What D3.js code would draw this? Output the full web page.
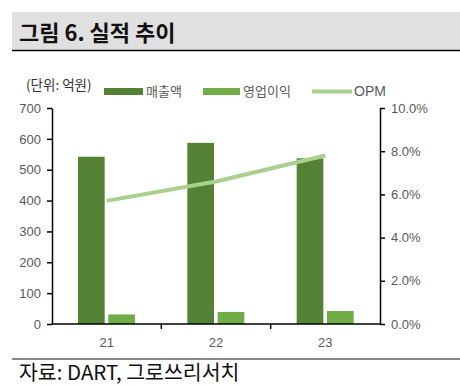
<!DOCTYPE html>
<html>
<head>
<meta charset="utf-8">
<script src="https://cdn.jsdelivr.net/npm/d3@7"></script>
<style>
  body { margin: 0; background: #fff; }
  text { font-family: "Noto Sans CJK KR", "Noto Sans", sans-serif; }
  .num { font-family: "Liberation Sans", Arial, sans-serif; }
</style>
</head>
<body>
<svg id="chart"></svg>
<script>
years = ["21", "22", "23"];
sales = [542, 587, 537];      // 매출액 (억원)
profit = [31, 39, 42];        // 영업이익 (억원)
opm = [5.7, 6.6, 7.8];        // OPM (%)
leftTicks = [0, 100, 200, 300, 400, 500, 600, 700];
rightTicks = [0, 2, 4, 6, 8, 10];

width = 460;
height = 385;
margin = {top: 108, right: 80, bottom: 61, left: 52};

const svg = d3.select("#chart")
    .attr("width", width)
    .attr("height", height);

// title bar
svg.append("rect")
    .attr("x", 12).attr("y", 12)
    .attr("width", width - 12).attr("height", 38)
    .attr("fill", "#e0e0e0");
svg.append("line")
    .attr("x1", 12).attr("x2", width)
    .attr("y1", 50.5).attr("y2", 50.5)
    .attr("stroke", "#000").attr("stroke-width", 1.5);
svg.append("text")
    .attr("x", 19).attr("y", 41)
    .attr("font-size", 22).attr("font-weight", "bold")
    .attr("fill", "#111")
    .text("그림 6. 실적 추이");

const x = d3.scaleBand()
    .domain(years)
    .range([margin.left, width - margin.right]);

const xInner = d3.scaleBand()
    .domain(["sales", "profit"])
    .range([26, 83])
    .paddingInner(0.12);

const y = d3.scaleLinear()
    .domain([0, 700])
    .range([height - margin.bottom, margin.top]);

const y2 = d3.scaleLinear()
    .domain([0, 10])
    .range([height - margin.bottom, margin.top]);

// bars
const g = svg.append("g");
g.selectAll(".sales")
    .data(sales)
    .join("rect")
    .attr("x", (d, i) => x(years[i]) + xInner("sales"))
    .attr("width", xInner.bandwidth())
    .attr("y", d => y(d))
    .attr("height", d => y(0) - y(d))
    .attr("fill", "#548235");
g.selectAll(".profit")
    .data(profit)
    .join("rect")
    .attr("x", (d, i) => x(years[i]) + xInner("profit"))
    .attr("width", xInner.bandwidth())
    .attr("y", d => y(d))
    .attr("height", d => y(0) - y(d))
    .attr("fill", "#70ad47");

// OPM line
const line = d3.line()
    .x((d, i) => x(years[i]) + x.bandwidth() / 2)
    .y(d => y2(d));
svg.append("path")
    .datum(opm)
    .attr("fill", "none")
    .attr("stroke", "#a9d18e")
    .attr("stroke-width", 4)
    .attr("d", line);

// axes
function styleAxis(sel) {
    sel.select(".domain").attr("stroke", "#000").attr("stroke-width", 1.5);
    sel.selectAll(".tick line").attr("stroke", "#000").attr("stroke-width", 1.5);
    sel.selectAll(".tick text")
        .attr("class", "num")
        .attr("fill", "#595959")
        .attr("font-size", 13);
}

svg.append("g")
    .attr("transform", `translate(${margin.left},0)`)
    .call(d3.axisLeft(y).tickValues(leftTicks).tickSize(5).tickPadding(6).tickSizeOuter(0))
    .call(styleAxis);

svg.append("g")
    .attr("transform", `translate(${width - margin.right},0)`)
    .call(d3.axisRight(y2).tickValues(rightTicks).tickSize(5).tickPadding(6)
        .tickSizeOuter(0).tickFormat(d => d.toFixed(1) + "%"))
    .call(styleAxis);

const xAxis = svg.append("g")
    .attr("transform", `translate(0,${height - margin.bottom})`)
    .call(d3.axisBottom(x).tickSize(0).tickPadding(14))
    .call(styleAxis);
xAxis.select(".domain").remove();
svg.append("line")
    .attr("x1", margin.left).attr("x2", width - margin.right)
    .attr("y1", y(0)).attr("y2", y(0))
    .attr("stroke", "#000").attr("stroke-width", 1.5);
// category boundary ticks
svg.append("g")
    .selectAll("line")
    .data(years.slice(1))
    .join("line")
    .attr("x1", d => x(d)).attr("x2", d => x(d))
    .attr("y1", y(0)).attr("y2", y(0) + 5)
    .attr("stroke", "#000").attr("stroke-width", 1.5);

// unit label
svg.append("text")
    .attr("x", 26).attr("y", 90)
    .attr("font-size", 13.5).attr("fill", "#333")
    .text("(단위: 억원)");

// legend
const legend = svg.append("g").attr("font-size", 13).attr("fill", "#595959");
legend.append("rect").attr("x", 104).attr("y", 88).attr("width", 39).attr("height", 7).attr("fill", "#548235");
legend.append("text").attr("x", 146).attr("y", 96).attr("fill", "#595959").text("매출액");
legend.append("rect").attr("x", 203).attr("y", 88).attr("width", 37).attr("height", 7).attr("fill", "#70ad47");
legend.append("text").attr("x", 243).attr("y", 96).attr("fill", "#595959").text("영업이익");
legend.append("line").attr("x1", 312).attr("x2", 352).attr("y1", 91.5).attr("y2", 91.5)
    .attr("stroke", "#a9d18e").attr("stroke-width", 4);
legend.append("text").attr("x", 354).attr("y", 96).attr("class", "num")
    .attr("font-size", 14).attr("fill", "#595959").text("OPM");

// source
svg.append("line")
    .attr("x1", 12).attr("x2", width)
    .attr("y1", 359).attr("y2", 359)
    .attr("stroke", "#888").attr("stroke-width", 2);
svg.append("text")
    .attr("x", 19).attr("y", 380)
    .attr("font-size", 20.5).attr("fill", "#111")
    .text("자료: DART, 그로쓰리서치");
</script>
</body>
</html>
